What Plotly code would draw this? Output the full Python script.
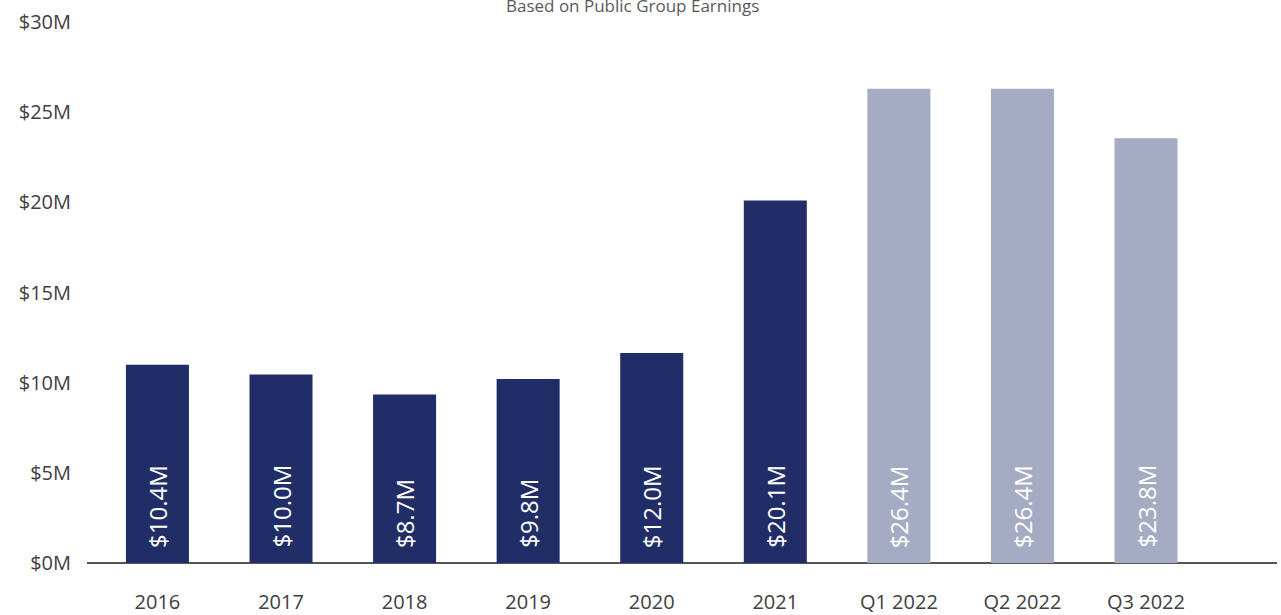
import plotly.graph_objects as go

categories = ["2016", "2017", "2018", "2019", "2020", "2021", "Q1 2022", "Q2 2022", "Q3 2022"]
bar_heights = [11.0, 10.45, 9.35, 10.2, 11.65, 20.1, 26.3, 26.3, 23.55]  # in $M, as drawn
bar_labels = ["$10.4M", "$10.0M", "$8.7M", "$9.8M", "$12.0M", "$20.1M", "$26.4M", "$26.4M", "$23.8M"]
bar_colors = ["#212d66"] * 6 + ["#a5abc2"] * 3
y_tick_vals = [0, 5, 10, 15, 20, 25, 30]
y_tick_text = ["$0M", "$5M", "$10M", "$15M", "$20M", "$25M", "$30M"]
subtitle = "Based on Public Group Earnings"

FONT = "Open Sans, Lato, sans-serif"

fig = go.Figure()
fig.add_trace(go.Bar(
    x=categories,
    y=bar_heights,
    marker=dict(color=bar_colors, line=dict(width=0)),
    width=0.51,
    hoverinfo="skip",
))

for i, lab in enumerate(bar_labels):
    fig.add_annotation(
        x=i, y=0, xref="x", yref="y",
        text=lab, textangle=-90, showarrow=False,
        xanchor="center", yanchor="bottom", yshift=13,
        font=dict(family=FONT, size=24, color="#ffffff"),
    )

fig.add_annotation(
    xref="paper", yref="paper", x=(632 - 87) / 1190, y=1, yshift=3,
    xanchor="center", yanchor="bottom",
    text=subtitle, showarrow=False,
    font=dict(family=FONT, size=17, color="#5a5a5a"),
)

fig.update_layout(
    width=1281, height=615,
    margin=dict(l=87, r=4, t=22, b=52, autoexpand=False),
    plot_bgcolor="#ffffff", paper_bgcolor="#ffffff",
    showlegend=False,
    bargap=0.49,
    xaxis=dict(
        type="category", automargin=False,
        range=[-0.57, 9.06],
        showgrid=False, zeroline=False,
        showline=False,
        ticks="", ticklabelstandoff=25,
        tickfont=dict(family=FONT, size=20, color="#404040"),
    ),
    yaxis=dict(
        automargin=False,
        range=[0, 30], tickvals=y_tick_vals, ticktext=y_tick_text,
        showgrid=False, zeroline=True, zerolinecolor="#555555", zerolinewidth=2,
        showline=False, ticks="", ticklabelstandoff=15,
        tickfont=dict(family=FONT, size=20, color="#404040"),
    ),
)

fig.write_html("out.html")
